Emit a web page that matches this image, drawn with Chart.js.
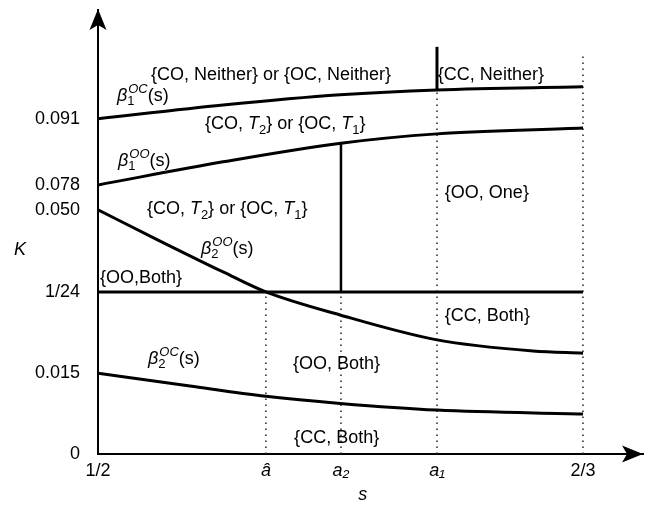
<!DOCTYPE html>
<html>
<head>
<meta charset="utf-8">
<script src="https://cdn.jsdelivr.net/npm/chart.js@4.4.1/dist/chart.umd.min.js"></script>
<style>
    html, body { margin: 0; padding: 0; background: #fff; }
    #wrap { width: 647px; height: 507px; }
</style>
</head>
<body>
<div id="wrap"><canvas id="phaseChart" width="647" height="507"></canvas></div>
<script>
// Phase diagram in (s, K). The K axis of the original is schematic (not to scale),
// so K is plotted on a schematic "level" scale and the real values are the tick labels.

const FONT = '"Liberation Sans", Arial, Helvetica, sans-serif';

// x axis: s
const S_HALF = 0.5;
const S_HAT = 0.5577;
const S_A2 = 0.5835;
const S_A1 = 0.6165;
const S_TWO_THIRDS = 2 / 3;

const xTickValues = [S_HALF, S_HAT, S_A2, S_A1, S_TWO_THIRDS];
const xTickLabels = ['1/2', 'â', 'a₂', 'a₁', '2/3'];

// y axis: K (schematic levels) and the labels shown for them
const kTickLevels = [0, 18.2, 36.5, 55.0, 60.6, 75.5];
const kTickLabels = ['0', '0.015', '1/24', '0.050', '0.078', '0.091'];
const K_ONE_24 = kTickLevels[2];

// boundary curves, sampled off the figure
const beta1OC_s = [0.5, 0.5430, 0.5832, 0.6165, 0.6667];
const beta1OC_k = [75.5, 78.6, 80.9, 82.0, 82.7];

const beta1OO_s = [0.5, 0.5430, 0.5835, 0.6165, 0.6667];
const beta1OO_k = [60.6, 65.8, 70.0, 72.1, 73.4];

const beta2OO_s = [0.5, 0.5203, 0.5430, 0.5577, 0.5832, 0.6165, 0.6495, 0.6667];
const beta2OO_k = [55.0, 48.3, 41.0, 36.5, 31.3, 25.7, 23.2, 22.7];

const beta2OC_s = [0.5, 0.5316, 0.5577, 0.5832, 0.6165, 0.6667];
const beta2OC_k = [18.2, 15.3, 13.0, 11.4, 9.9, 9.0];

// straight boundaries and guide lines
const a2Wall_k = [K_ONE_24, 70.0];
const a1Wall_k = [82.0, 91.7];
const hatGuide_k = [0, K_ONE_24];
const a2Guide_k = [0, K_ONE_24];
const a1Guide_k = [0, 82.0];
const endGuide_k = [0, 89.9];

// region / curve labels: anchor (s, K level) is the left end of the text baseline
const T = () => [{ t: '{CO, ' }, { t: 'T', i: true }, { sub: '2' }, { t: '} or {OC, ' }, { t: 'T', i: true }, { sub: '1' }, { t: '}' }];
const beta = (sub, sup) => [{ t: 'β', i: true }, { sub: sub, sup: sup }, { t: '(s)' }];

const regionLabels = [
    { s: 0.5182, k: 84.2, parts: [{ t: '{CO, Neither} or {OC, Neither}' }] },
    { s: 0.5065, k: 79.5, parts: beta('1', 'OC') },
    { s: 0.5368, k: 73.2, parts: T() },
    { s: 0.5069, k: 64.9, parts: beta('1', 'OO') },
    { s: 0.5168, k: 54.1, parts: T() },
    { s: 0.5354, k: 45.0, parts: beta('2', 'OO') },
    { s: 0.5007, k: 38.5, parts: [{ t: '{OO,Both}' }] },
    { s: 0.5172, k: 20.3, parts: beta('2', 'OC') },
    { s: 0.5670, k: 19.1, parts: [{ t: '{OO, Both}' }] },
    { s: 0.5674, k: 2.5, parts: [{ t: '{CC, Both}' }] },
    { s: 0.6168, k: 84.2, parts: [{ t: '{CC, Neither}' }] },
    { s: 0.6192, k: 57.7, parts: [{ t: '{OO, One}' }] },
    { s: 0.6192, k: 30.0, parts: [{ t: '{CC, Both}' }] }
];

function pts(xs, ys) {
    return xs.map((x, i) => ({ x: x, y: ys[i] }));
}

function solid(data, width) {
    return {
        data: data,
        showLine: true,
        borderColor: '#000',
        borderWidth: width,
        pointRadius: 0,
        cubicInterpolationMode: 'monotone',
        fill: false
    };
}

function dotted(s, ks) {
    return {
        data: [{ x: s, y: ks[0] }, { x: s, y: ks[1] }],
        showLine: true,
        borderColor: '#222',
        borderWidth: 1.5,
        borderDash: [1.5, 4.5],
        pointRadius: 0,
        fill: false
    };
}

const datasets = [
    solid(pts(beta1OC_s, beta1OC_k), 3),
    solid(pts(beta1OO_s, beta1OO_k), 3),
    solid(pts(beta2OO_s, beta2OO_k), 3),
    solid(pts(beta2OC_s, beta2OC_k), 3),
    solid([{ x: S_HALF, y: K_ONE_24 }, { x: S_TWO_THIRDS, y: K_ONE_24 }], 3),
    solid([{ x: S_A2, y: a2Wall_k[0] }, { x: S_A2, y: a2Wall_k[1] }], 2.5),
    solid([{ x: S_A1, y: a1Wall_k[0] }, { x: S_A1, y: a1Wall_k[1] }], 3),
    dotted(S_HAT, hatGuide_k),
    dotted(S_A2, a2Guide_k),
    dotted(S_A1, a1Guide_k),
    dotted(S_TWO_THIRDS, endGuide_k)
];

function fnt(size, italic) {
    return (italic ? 'italic ' : '') + size + 'px ' + FONT;
}

// draw a line of text with italics, subscripts and stacked sub/superscripts
function drawRich(ctx, x, y, parts) {
    let cx = x;
    parts.forEach(p => {
        if (p.t !== undefined) {
            ctx.font = fnt(18, p.i);
            ctx.fillText(p.t, cx, y);
            cx += ctx.measureText(p.t).width;
        } else if (p.sup !== undefined) {
            ctx.font = fnt(13, true);
            ctx.fillText(p.sup, cx + 1, y - 8);
            const w1 = ctx.measureText(p.sup).width + 1;
            ctx.font = fnt(13, false);
            ctx.fillText(p.sub, cx, y + 4);
            const w2 = ctx.measureText(p.sub).width;
            cx += Math.max(w1, w2);
        } else {
            ctx.font = fnt(13, false);
            ctx.fillText(p.sub, cx, y + 5);
            cx += ctx.measureText(p.sub).width;
        }
    });
}

function arrowHead(ctx, tipX, tipY, dir) {
    // dir: 'up' or 'right'; stealth-style head
    ctx.beginPath();
    if (dir === 'up') {
        ctx.moveTo(tipX, tipY);
        ctx.lineTo(tipX + 8.5, tipY + 21);
        ctx.lineTo(tipX, tipY + 16);
        ctx.lineTo(tipX - 8.5, tipY + 21);
    } else {
        ctx.moveTo(tipX, tipY);
        ctx.lineTo(tipX - 21, tipY - 8.5);
        ctx.lineTo(tipX - 16, tipY);
        ctx.lineTo(tipX - 21, tipY + 8.5);
    }
    ctx.closePath();
    ctx.fill();
}

const schematicPlugin = {
    id: 'schematic',
    afterDatasetsDraw(chart) {
        const ctx = chart.ctx;
        const xs = chart.scales.x;
        const ys = chart.scales.y;
        const area = chart.chartArea;
        ctx.save();
        ctx.fillStyle = '#000';
        ctx.textBaseline = 'alphabetic';
        ctx.textAlign = 'left';

        regionLabels.forEach(l => {
            drawRich(ctx, xs.getPixelForValue(l.s), ys.getPixelForValue(l.k), l.parts);
        });

        // axis names
        ctx.textAlign = 'center';
        ctx.textBaseline = 'middle';
        ctx.font = fnt(18, true);
        ctx.fillText('K', ys.left + 20, ys.getPixelForValue(46));
        ctx.fillText('s', xs.getPixelForValue(0.591), xs.top + 41);

        // arrow heads at the ends of both axes
        arrowHead(ctx, area.left, area.top - 1, 'up');
        arrowHead(ctx, area.right, area.bottom, 'right');
        ctx.restore();
    }
};

const ctx = document.getElementById('phaseChart').getContext('2d');

const phaseChart = new Chart(ctx, {
    type: 'scatter',
    data: { datasets: datasets },
    options: {
        responsive: false,
        animation: false,
        layout: { padding: { top: 10, right: 4, left: 0, bottom: 0 } },
        plugins: {
            legend: { display: false },
            tooltip: { enabled: false }
        },
        scales: {
            x: {
                type: 'linear',
                min: 0.5,
                max: 0.6873,
                grid: { display: false },
                border: { display: true, color: '#000', width: 2 },
                afterBuildTicks: scale => {
                    scale.ticks = xTickValues.map(v => ({ value: v }));
                },
                afterFit: scale => {
                    scale.height = 53;
                    scale.paddingLeft = 0;
                    scale.paddingRight = 0;
                },
                ticks: {
                    autoSkip: false,
                    maxRotation: 0,
                    padding: -2,
                    color: '#000',
                    font: c => ({
                        family: FONT,
                        size: 18,
                        style: (c.index >= 1 && c.index <= 3) ? 'italic' : 'normal'
                    }),
                    callback: (value, index) => xTickLabels[index]
                }
            },
            y: {
                type: 'linear',
                min: 0,
                max: 100,
                grid: { display: false },
                border: { display: true, color: '#000', width: 2 },
                afterBuildTicks: scale => {
                    scale.ticks = kTickLevels.map(v => ({ value: v }));
                },
                afterFit: scale => {
                    scale.width = 98;
                    scale.paddingTop = 0;
                    scale.paddingBottom = 0;
                },
                ticks: {
                    autoSkip: false,
                    padding: 10,
                    color: '#000',
                    font: { family: FONT, size: 18 },
                    callback: (value, index) => kTickLabels[index]
                }
            }
        }
    },
    plugins: [schematicPlugin]
});
</script>
</body>
</html>
